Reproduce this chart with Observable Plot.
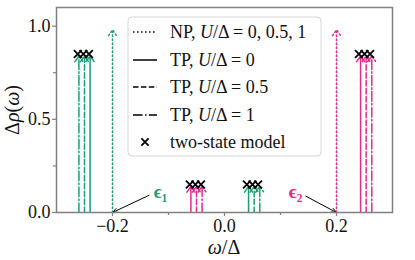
<!DOCTYPE html>
<html>
<head>
<meta charset="utf-8">
<script src="https://cdn.jsdelivr.net/npm/d3@7"></script>
<script src="https://cdn.jsdelivr.net/npm/@observablehq/plot@0.6"></script>
<style>
  html, body { margin: 0; padding: 0; background: #fff; }
  #chart { position: relative; width: 415px; height: 260px; }
</style>
</head>
<body>
<div id="chart"></div>
<script>
// ---- data ----
const levels = ["eps1", "eps2"];
const levelColors = ["#1b9e77", "#e7298a"];

// non-interacting peaks (NP)
const npOmega = [-0.2, 0.2];
const npWeight = [0.98, 0.98];
const npLevel = ["eps1", "eps2"];

// TP peaks for U/Δ = 0, 0.5, 1
const tpLevel = ["eps1", "eps2", "eps1", "eps2"];
const tpWeight = [0.84, 0.14, 0.14, 0.84];
const tpOmegaU0 = [-0.24, -0.06, 0.043, 0.243];
const tpOmegaU05 = [-0.25, -0.05, 0.053, 0.253];
const tpOmegaU1 = [-0.26, -0.04, 0.063, 0.263];

// two-state model
const tsOmega = [-0.262, -0.252, -0.242, -0.062, -0.052, -0.042, 0.04, 0.05, 0.06, 0.24, 0.25, 0.26];
const tsWeight = [0.85, 0.85, 0.85, 0.15, 0.15, 0.15, 0.15, 0.15, 0.15, 0.85, 0.85, 0.85];

// annotations
const annLabel = ["ϵ₁", "ϵ₂"];
const annLevel = ["eps1", "eps2"];
const annTextX = [-0.114, 0.127];
const annTextY = [0.108, 0.112];
const annFromX = [-0.135, 0.145];
const annFromY = [0.092, 0.088];
const annToX = [-0.2, 0.2];
const annToY = [0.0, 0.0];

// ticks
const xMajor = [-0.2, 0, 0.2];
const xMinor = [-0.1, 0.1];
const yMajor = [0, 0.5, 1.0];
const yMinor = [0.25, 0.75];

// ---- tables ----
const npData = npOmega.map((x, i) => ({x, y: npWeight[i], level: npLevel[i]}));
const mk = (arr) => arr.map((x, i) => ({x, y: tpWeight[i], level: tpLevel[i]}));
const tp0 = mk(tpOmegaU0), tp05 = mk(tpOmegaU05), tp1 = mk(tpOmegaU1);
const tsData = tsOmega.map((x, i) => ({x, y: tsWeight[i]}));
const annData = annLabel.map((t, i) => ({t, level: annLevel[i], tx: annTextX[i], ty: annTextY[i],
  fx: annFromX[i], fy: annFromY[i], ex: annToX[i], ey: annToY[i]}));

const FONT = "Liberation Serif, DejaVu Serif, serif";
const DASH = {solid: null, dashed: "5.5,2.4", dashdot: "9.6,2.4,1.5,2.4", dotted: "1.5,2.5"};
const fmt = d3.format(".1f");

const arrowOpts = (dash) => ({
  x1: "x", y1: () => 0, x2: "x", y2: "y",
  stroke: "level", strokeWidth: 1.5, headLength: 7, headAngle: 70,
  strokeDasharray: dash
});

const plot = Plot.plot({
  width: 415, height: 260,
  marginLeft: 56, marginRight: 23, marginTop: 7, marginBottom: 48,
  style: {fontFamily: FONT, fontSize: "18px", background: "white", color: "#111"},
  x: {domain: [-0.3, 0.3]},
  y: {domain: [0, 1.1]},
  color: {domain: levels, range: levelColors},
  marks: [
    Plot.axisX({ticks: xMajor, tickFormat: fmt, tickSize: 4, tickPadding: 3, stroke: "#808080", strokeWidth: 1.2, label: null, fontSize: 18, fontFamily: FONT}),
    Plot.axisX({ticks: xMinor, tickFormat: () => "", tickSize: 3, stroke: "#808080", strokeWidth: 1.2, label: null}),
    Plot.axisY({ticks: yMajor, tickFormat: fmt, tickSize: 4, tickPadding: 2, stroke: "#808080", strokeWidth: 1.2, label: null, fontSize: 18, fontFamily: FONT}),
    Plot.axisY({ticks: yMinor, tickFormat: () => "", tickSize: 3, stroke: "#808080", strokeWidth: 1.2, label: null}),
    Plot.arrow(npData, arrowOpts(DASH.dotted)),
    Plot.arrow(tp0, arrowOpts(DASH.solid)),
    Plot.arrow(tp05, arrowOpts(DASH.dashed)),
    Plot.arrow(tp1, arrowOpts(DASH.dashdot)),
    Plot.dot(tsData, {x: "x", y: "y", symbol: "times", r: 3.6, stroke: "black", strokeWidth: 1.8}),
    Plot.arrow(annData, {x1: "fx", y1: "fy", x2: "ex", y2: "ey", stroke: "black", strokeWidth: 1, headLength: 8, headAngle: 45}),
    Plot.text(annData, {x: "tx", y: "ty", text: "t", fill: "level", fontWeight: "bold", fontSize: 19, fontFamily: FONT, textAnchor: "middle"}),
    Plot.frame({stroke: "#808080", strokeWidth: 1.5})
  ]
});

document.getElementById("chart").appendChild(plot);

// ---- axis labels & legend (layout) ----
const svg = d3.select(plot);
const ns = (sel, parts) => {
  parts.forEach(([s, it]) => sel.append("tspan").attr("font-style", it ? "italic" : "normal").text(s));
};

const yl = svg.append("text").attr("transform", "translate(19,110) rotate(-90)")
  .attr("text-anchor", "middle").attr("font-family", FONT).attr("font-size", 20).attr("fill", "#111");
ns(yl, [["Δ", false], ["ρ", true], ["(", false], ["ω", true], [")", false]]);

const xl = svg.append("text").attr("x", 224).attr("y", 254)
  .attr("text-anchor", "middle").attr("font-family", FONT).attr("font-size", 20).attr("fill", "#111");
ns(xl, [["ω", true], ["/Δ", false]]);

const lg = svg.append("g").attr("font-family", FONT).attr("font-size", 18).attr("fill", "#111")
  .attr("text-anchor", "start");
lg.append("rect").attr("x", 128).attr("y", 17).attr("width", 193).attr("height", 139)
  .attr("rx", 4).attr("fill", "white").attr("fill-opacity", 0.85).attr("stroke", "#d6d6d6");

const rows = [
  {dash: DASH.dotted, parts: [["NP, ", false], ["U", true], ["/Δ = 0, 0.5, 1", false]]},
  {dash: DASH.solid, parts: [["TP, ", false], ["U", true], ["/Δ = 0", false]]},
  {dash: DASH.dashed, parts: [["TP, ", false], ["U", true], ["/Δ = 0.5", false]]},
  {dash: DASH.dashdot, parts: [["TP, ", false], ["U", true], ["/Δ = 1", false]]},
  {marker: true, parts: [["two-state model", false]]}
];
const rowY = [32, 60, 87, 115, 142];
rows.forEach((r, i) => {
  const cy = rowY[i];
  if (r.marker) {
    const s = 3.6;
    lg.append("path").attr("d", `M${145 - s},${cy - s}L${145 + s},${cy + s}M${145 - s},${cy + s}L${145 + s},${cy - s}`)
      .attr("stroke", "black").attr("stroke-width", 1.8);
  } else {
    const l = lg.append("line").attr("x1", 133).attr("x2", 157).attr("y1", cy).attr("y2", cy)
      .attr("stroke", "black").attr("stroke-width", 1.5);
    if (r.dash) l.attr("stroke-dasharray", r.dash);
  }
  const t = lg.append("text").attr("x", 170).attr("y", cy + 6).attr("text-anchor", "start");
  ns(t, r.parts);
});
</script>
</body>
</html>
